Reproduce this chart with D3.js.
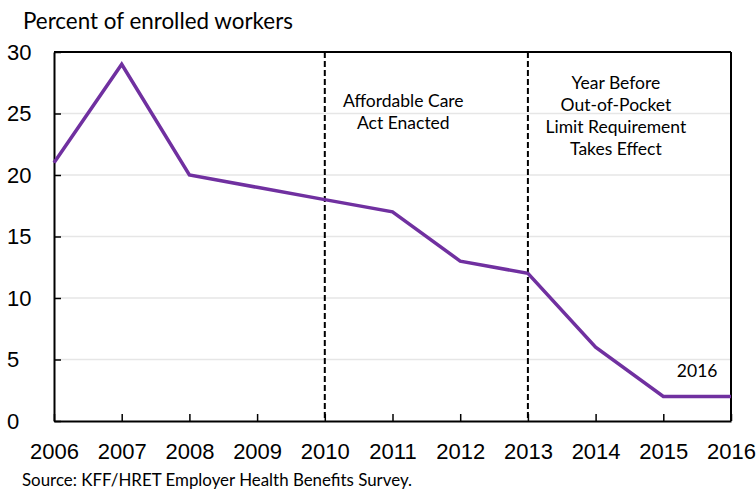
<!DOCTYPE html>
<html>
<head>
<meta charset="utf-8">
<script src="https://cdn.jsdelivr.net/npm/d3@7"></script>
<style>
  html, body { margin: 0; padding: 0; background: #fff; }
  svg { display: block; font-family: Lato, "Open Sans", sans-serif; }
</style>
</head>
<body>
<svg id="chart" width="756" height="489"></svg>
<script>
// Share of covered workers enrolled in plans with no out-of-pocket limit
const years = [2006, 2007, 2008, 2009, 2010, 2011, 2012, 2013, 2014, 2015, 2016];
const percents = [21, 29, 20, 19, 18, 17, 13, 12, 6, 2, 2];
const yTicks = [0, 5, 10, 15, 20, 25, 30];
const markerYears = [2010, 2013];
const markerNotes = [
  ["Affordable Care", "Act Enacted"],
  ["Year Before", "Out-of-Pocket", "Limit Requirement", "Takes Effect"]
];

const svg = d3.select("#chart");
const plotLeft = 54, plotRight = 731, plotTop = 52, plotBottom = 421;

const x = d3.scaleLinear().domain([2006, 2016]).range([plotLeft, plotRight]);
const y = d3.scaleLinear().domain([0, 30]).range([plotBottom, plotTop]);

// light horizontal gridlines
svg.append("g")
  .selectAll("line")
  .data(yTicks.filter(d => d > 0 && d < 30))
  .join("line")
  .attr("x1", plotLeft).attr("x2", plotRight)
  .attr("y1", d => y(d)).attr("y2", d => y(d))
  .attr("stroke", "#e6e6e6").attr("stroke-width", 1.3);

// y axis with inward ticks
const yAxis = svg.append("g")
  .attr("transform", `translate(${plotLeft},0)`)
  .call(d3.axisLeft(y).tickValues(yTicks).tickSizeInner(-7).tickSizeOuter(0).tickPadding(34));
yAxis.select(".domain").attr("stroke", "#000").attr("stroke-width", 2);
yAxis.selectAll(".tick line").attr("stroke", "#000").attr("stroke-width", 1.5);
yAxis.selectAll(".tick text")
  .attr("font-size", 22).attr("fill", "#000")
  .attr("text-anchor", "start").attr("x", -47);

// x axis with inward ticks
const xAxis = svg.append("g")
  .attr("transform", `translate(0,${plotBottom})`)
  .call(d3.axisBottom(x).tickValues(years).tickFormat(d3.format("d")).tickSizeInner(-7).tickSizeOuter(0).tickPadding(22));
xAxis.select(".domain").attr("stroke", "#000").attr("stroke-width", 2);
xAxis.selectAll(".tick line").attr("stroke", "#000").attr("stroke-width", 1.5);
xAxis.selectAll(".tick text").attr("font-size", 22).attr("fill", "#000");

// frame top and right
svg.append("line").attr("x1", plotLeft).attr("x2", plotRight).attr("y1", plotTop).attr("y2", plotTop)
  .attr("stroke", "#000").attr("stroke-width", 2);
svg.append("line").attr("x1", plotRight).attr("x2", plotRight).attr("y1", plotTop).attr("y2", plotBottom)
  .attr("stroke", "#000").attr("stroke-width", 2);

// policy marker lines
svg.append("g")
  .selectAll("line")
  .data(markerYears)
  .join("line")
  .attr("x1", d => x(d)).attr("x2", d => x(d))
  .attr("y1", plotTop).attr("y2", plotBottom)
  .attr("stroke", "#000").attr("stroke-width", 2)
  .attr("stroke-dasharray", "6,3");

// data line
svg.append("path")
  .datum(years.map((yr, i) => [yr, percents[i]]))
  .attr("fill", "none")
  .attr("stroke", "#7030A0")
  .attr("stroke-width", 3.5)
  .attr("stroke-linejoin", "miter")
  .attr("d", d3.line().x(d => x(d[0])).y(d => y(d[1])));

// marker notes
const noteCenters = [2011.16, 2014.3];
const noteTops = [107, 89];
markerNotes.forEach((lines, i) => {
  const t = svg.append("text")
    .attr("text-anchor", "middle")
    .attr("font-size", 17.5)
    .attr("fill", "#000");
  lines.forEach((ln, j) => {
    t.append("tspan")
      .attr("x", x(noteCenters[i]))
      .attr("y", noteTops[i] + j * 22)
      .text(ln);
  });
});

// end-year label
svg.append("text")
  .attr("x", x(2015.5)).attr("y", y(3.6))
  .attr("text-anchor", "middle").attr("font-size", 17.5).attr("fill", "#000")
  .text(years[years.length - 1]);

// axis title
svg.append("text")
  .attr("x", 23).attr("y", 29)
  .attr("font-size", 22.4).attr("fill", "#000")
  .text("Percent of enrolled workers");

// source
svg.append("text")
  .attr("x", 22).attr("y", 486)
  .attr("font-size", 16.9).attr("fill", "#000")
  .text("Source: KFF/HRET Employer Health Benefits Survey.");
</script>
</body>
</html>
